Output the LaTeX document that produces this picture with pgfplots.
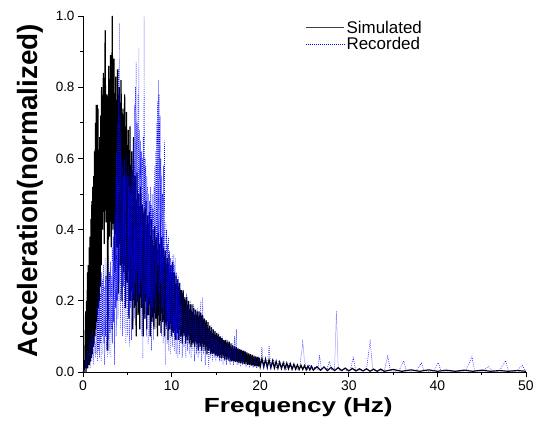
\documentclass[border=0pt]{standalone}
\usepackage{fontspec}
\setmainfont{Liberation Sans}
\usepackage{graphicx}
\usepackage{pgfplots}
\pgfplotsset{compat=1.18}
\begin{document}
\begin{tikzpicture}
\path[use as bounding box] (-83bp,-60bp) rectangle (454bp,372bp);
\begin{axis}[
  scale only axis, width=443bp, height=356bp,
  at={(0,0)}, anchor=south west,
  xmin=0, xmax=50, ymin=0, ymax=1.0,
  axis x line*=bottom, axis y line*=left,
  axis line style={line width=0.9pt},
  tick align=outside,
  major tick length=5bp, minor tick length=3bp,
  every tick/.style={black, line width=0.8pt},
  xtick={0,10,20,30,40,50}, minor xtick={5,15,25,35,45},
  ytick={0,0.2,0.4,0.6,0.8,1.0}, minor ytick={0.1,0.3,0.5,0.7,0.9},
  yticklabel style={/pgf/number format/fixed, /pgf/number format/precision=1, /pgf/number format/fixed zerofill, font=\fontsize{13.5}{15}\selectfont},
  xticklabel style={font=\fontsize{14}{16}\selectfont},
  /pgf/number format/assume math mode=true,
  xlabel={\scalebox{1.28}[1]{\fontsize{20.5}{24}\selectfont\bfseries Frequency (Hz)}},
  ylabel={\fontsize{28}{32}\selectfont\bfseries Acceleration(normalized)},
  xlabel style={at={(axis description cs:0.486,-0.098)}, anchor=center},
  ylabel style={at={(axis description cs:-0.12,0.51)}, anchor=center},
  legend style={at={(0.50,0.995)}, anchor=north west, draw=none, fill=none,
    font=\fontsize{17}{19}\selectfont, row sep=-1bp, inner sep=1bp},
  legend cell align=left,
  legend image code/.code={\draw[#1] (0bp,0bp) -- (38bp,0bp);},
  clip=true,
]
\addlegendimage{black!75, line width=0.9pt}
\addlegendentry{Simulated}
\addlegendimage{blue, line width=0.6pt, dash pattern=on 0.8pt off 1.2pt}
\addlegendentry{Recorded}
\addplot[black, line width=1.2pt, forget plot] coordinates {
(0.0,0.00)(0.1,0.00)(0.2,0.02)(0.30,0.17)(0.35,0.00)(0.40,0.20)(0.45,0.01)(0.50,0.28)(0.55,0.01)(0.60,0.30)
(0.65,0.02)(0.70,0.35)(0.75,0.02)(0.80,0.38)(0.85,0.03)(0.90,0.43)(0.95,0.04)(1.00,0.48)(1.05,0.05)(1.10,0.52)
(1.15,0.07)(1.20,0.55)(1.25,0.08)(1.30,0.62)(1.35,0.10)(1.40,0.70)(1.45,0.12)(1.50,0.75)(1.55,0.14)(1.60,0.75)
(1.65,0.16)(1.70,0.74)(1.75,0.18)(1.80,0.62)(1.85,0.20)(1.90,0.66)(1.95,0.24)(2.00,0.72)(2.05,0.30)
(2.1,0.80)(2.2,0.40)(2.3,0.84)(2.4,0.36)(2.5,0.96)(2.6,0.42)(2.7,0.78)(2.8,0.06)(2.9,0.86)
(3.0,0.38)(3.1,0.89)(3.2,0.35)(3.3,1.00)(3.4,0.40)(3.5,0.88)(3.6,0.28)(3.7,0.83)(3.8,0.35)(3.9,0.85)
(4.0,0.22)(4.1,0.80)(4.2,0.30)(4.3,0.82)(4.4,0.20)(4.5,0.74)(4.6,0.28)(4.7,0.78)(4.8,0.18)(4.9,0.73)
(5.0,0.25)(5.1,0.68)(5.2,0.15)(5.3,0.69)(5.4,0.20)(5.5,0.62)(5.6,0.12)(5.7,0.66)(5.8,0.18)(5.9,0.55)
(6.0,0.10)(6.1,0.56)(6.2,0.16)(6.3,0.50)(6.4,0.12)(6.5,0.52)(6.6,0.18)(6.7,0.47)(6.8,0.10)(6.9,0.46)
(7.0,0.15)(7.1,0.48)(7.2,0.12)(7.3,0.44)(7.4,0.16)(7.5,0.45)(7.6,0.10)(7.7,0.43)(7.8,0.14)(7.9,0.40)
(8.0,0.12)(8.1,0.41)(8.2,0.15)(8.3,0.38)(8.4,0.10)(8.5,0.39)(8.6,0.13)(8.7,0.36)(8.8,0.11)(8.9,0.38)
(9.0,0.14)(9.1,0.35)(9.2,0.10)(9.3,0.34)(9.4,0.13)(9.5,0.32)(9.6,0.09)(9.7,0.33)(9.8,0.12)(9.9,0.30)
(10.0,0.10)(10.1,0.31)(10.2,0.11)(10.3,0.28)(10.4,0.09)(10.5,0.27)(10.6,0.11)(10.7,0.26)(10.8,0.09)(10.9,0.25)
(11.0,0.10)(11.1,0.23)(11.2,0.08)(11.3,0.23)(11.4,0.10)(11.5,0.21)(11.6,0.08)(11.7,0.21)(11.8,0.09)(11.9,0.20)
(12.0,0.08)(12.1,0.19)(12.2,0.07)(12.3,0.19)(12.4,0.08)(12.5,0.18)(12.6,0.07)(12.7,0.175)(12.8,0.08)(12.9,0.17)
(13.0,0.06)(13.1,0.17)(13.2,0.07)(13.3,0.165)(13.4,0.06)(13.5,0.16)(13.6,0.07)(13.7,0.15)(13.8,0.06)(13.9,0.145)
(14.0,0.05)(14.1,0.14)(14.2,0.06)(14.3,0.13)(14.4,0.05)(14.5,0.125)(14.6,0.05)(14.7,0.12)(14.8,0.05)(14.9,0.115)
(15.0,0.045)(15.1,0.11)(15.2,0.045)(15.3,0.105)(15.4,0.04)(15.5,0.10)(15.6,0.04)(15.7,0.095)(15.8,0.04)(15.9,0.09)
(16.0,0.035)(16.1,0.09)(16.2,0.035)(16.3,0.085)(16.4,0.035)(16.5,0.085)(16.6,0.03)(16.7,0.08)(16.8,0.03)(16.9,0.075)
(17.0,0.03)(17.1,0.072)(17.2,0.028)(17.3,0.07)(17.4,0.028)(17.5,0.066)(17.6,0.026)(17.7,0.064)(17.8,0.025)(17.9,0.062)
(18.0,0.024)(18.1,0.06)(18.2,0.022)(18.3,0.058)(18.4,0.022)(18.5,0.055)(18.6,0.02)(18.7,0.052)(18.8,0.02)(18.9,0.05)
(19.0,0.018)(19.1,0.048)(19.2,0.018)(19.3,0.046)(19.4,0.016)(19.5,0.044)(19.6,0.016)(19.7,0.042)(19.8,0.015)(19.9,0.04)
(20.0,0.015)(20.2,0.038)(20.4,0.014)(20.6,0.036)(20.8,0.013)(21.0,0.034)(21.2,0.012)(21.4,0.032)(21.6,0.011)(21.8,0.03)
(22.0,0.01)(22.2,0.028)(22.4,0.01)(22.6,0.026)(22.8,0.009)(23.0,0.025)(23.2,0.009)(23.4,0.023)(23.6,0.008)(23.8,0.022)
(24.0,0.008)(24.2,0.02)(24.4,0.007)(24.6,0.019)(24.8,0.007)(25.0,0.018)(25.2,0.006)(25.4,0.017)(25.6,0.006)(25.8,0.016)
(26.0,0.005)(26.4,0.015)(26.8,0.005)(27.2,0.014)(27.6,0.004)(28.0,0.013)(28.4,0.004)(28.8,0.012)(29.2,0.004)(29.6,0.011)
(30.0,0.003)(30.4,0.01)(30.8,0.003)(31.2,0.009)(31.6,0.003)(32.0,0.009)(32.4,0.002)(32.8,0.008)(33.2,0.002)(33.6,0.008)
(34.0,0.002)(35,0.007)(36,0.002)(37,0.006)(38,0.002)(39,0.006)(40,0.002)(41,0.005)(42,0.002)(43,0.005)
(44,0.002)(45,0.005)(46,0.002)(47,0.004)(48,0.002)(49,0.004)(50,0.002)
};
\addplot[blue, line width=0.5pt, dash pattern=on 0.8pt off 1.2pt, forget plot] coordinates {
(0.0,0.00)(0.1,0.01)(0.2,0.00)(0.3,0.03)(0.4,0.01)(0.5,0.06)(0.6,0.02)(0.7,0.09)(0.8,0.01)(0.9,0.11)
(1.0,0.03)(1.1,0.12)(1.2,0.02)(1.3,0.10)(1.4,0.04)(1.5,0.14)(1.55,0.05)(1.6,0.18)(1.65,0.03)(1.7,0.22)
(1.75,0.06)(1.8,0.20)(1.85,0.04)(1.9,0.25)(1.95,0.08)(2.0,0.22)(2.05,0.03)(2.1,0.28)(2.15,0.10)(2.2,0.26)
(2.25,0.05)(2.3,0.30)(2.35,0.08)(2.4,0.24)(2.45,0.02)(2.5,0.32)(2.55,0.10)(2.6,0.27)(2.65,0.06)(2.7,0.30)
(2.75,0.04)(2.8,0.26)(2.85,0.09)(2.9,0.33)(2.95,0.05)(3.0,0.28)(3.05,0.11)(3.1,0.31)(3.15,0.04)(3.2,0.27)
(3.25,0.12)(3.3,0.35)(3.35,0.08)(3.4,0.38)(3.45,0.14)(3.5,0.42)(3.55,0.02)(3.6,0.45)(3.65,0.18)(3.7,0.55)
(3.75,0.10)(3.8,0.62)(3.85,0.20)(3.9,0.70)(3.95,0.15)(4.0,0.85)(4.05,0.25)(4.1,0.98)(4.15,0.20)(4.2,0.72)
(4.25,0.12)(4.3,0.66)(4.35,0.22)(4.4,0.60)(4.45,0.10)(4.5,0.58)(4.55,0.24)(4.6,0.55)(4.65,0.12)(4.7,0.60)
(4.75,0.18)(4.8,0.56)(4.85,0.08)(4.9,0.62)(4.95,0.20)(5.0,0.55)(5.05,0.10)(5.1,0.58)(5.15,0.16)(5.2,0.52)
(5.25,0.07)(5.3,0.55)(5.35,0.18)(5.4,0.50)(5.45,0.09)(5.5,0.56)(5.55,0.20)(5.6,0.60)(5.65,0.12)(5.7,0.65)
(5.75,0.22)(5.8,0.75)(5.85,0.15)(5.9,0.80)(5.95,0.25)(6.0,0.87)(6.05,0.18)(6.1,0.70)(6.15,0.28)(6.2,0.78)
(6.25,0.20)(6.3,0.91)(6.35,0.22)(6.4,0.68)(6.45,0.12)(6.5,0.65)(6.55,0.25)(6.6,0.62)(6.65,0.10)(6.7,0.60)
(6.75,0.04)(6.8,0.66)(6.85,0.20)(6.9,1.00)(6.95,0.15)(7.0,0.60)(7.05,0.22)(7.1,0.58)(7.15,0.10)(7.2,0.55)
(7.25,0.18)(7.3,0.52)(7.35,0.08)(7.4,0.50)(7.45,0.20)(7.5,0.48)(7.55,0.10)(7.6,0.52)(7.65,0.16)(7.7,0.47)
(7.75,0.06)(7.8,0.50)(7.85,0.18)(7.9,0.46)(7.95,0.09)(8.0,0.52)(8.05,0.20)(8.1,0.58)(8.15,0.12)(8.2,0.62)
(8.25,0.25)(8.3,0.70)(8.35,0.18)(8.4,0.76)(8.45,0.30)(8.5,0.82)(8.55,0.22)(8.6,0.78)(8.65,0.15)(8.7,0.72)
(8.75,0.25)(8.8,0.60)(8.85,0.10)(8.9,0.55)(8.95,0.18)(9.0,0.50)(9.05,0.08)(9.1,0.58)(9.15,0.20)(9.2,0.65)
(9.25,0.10)(9.3,0.02)(9.35,0.42)(9.4,0.12)(9.45,0.40)(9.5,0.08)(9.55,0.36)(9.6,0.14)(9.65,0.38)(9.7,0.06)
(9.75,0.34)(9.8,0.12)(9.85,0.32)(9.9,0.05)(9.95,0.30)(10.0,0.10)(10.05,0.33)(10.1,0.07)(10.15,0.31)(10.2,0.12)
(10.25,0.33)(10.3,0.06)(10.35,0.30)(10.4,0.10)(10.45,0.32)(10.5,0.05)(10.55,0.28)(10.6,0.09)(10.65,0.26)(10.7,0.04)
(10.75,0.27)(10.8,0.10)(10.85,0.24)(10.9,0.05)(10.95,0.25)(11.0,0.08)(11.1,0.22)(11.2,0.04)(11.3,0.23)(11.4,0.07)
(11.5,0.20)(11.6,0.04)(11.7,0.22)(11.8,0.06)(11.9,0.19)(12.0,0.05)(12.1,0.20)(12.2,0.04)(12.3,0.18)(12.4,0.06)
(12.5,0.19)(12.6,0.03)(12.7,0.17)(12.8,0.05)(12.9,0.18)(13.0,0.04)(13.1,0.17)(13.2,0.05)(13.3,0.20)(13.4,0.03)
(13.5,0.21)(13.6,0.05)(13.7,0.15)(13.8,0.02)(13.9,0.14)(14.0,0.04)(14.1,0.13)(14.2,0.01)(14.3,0.12)(14.4,0.04)
(14.5,0.13)(14.6,0.03)(14.7,0.12)(14.8,0.04)(14.9,0.11)(15.0,0.03)(15.1,0.10)(15.2,0.04)(15.3,0.11)(15.4,0.03)
(15.5,0.09)(15.6,0.03)(15.7,0.10)(15.8,0.02)(15.9,0.09)(16.0,0.03)(16.1,0.08)(16.2,0.02)(16.3,0.09)(16.4,0.03)
(16.5,0.08)(16.6,0.02)(16.7,0.075)(16.8,0.03)(16.9,0.08)(17.0,0.02)(17.1,0.10)(17.2,0.03)(17.3,0.12)(17.4,0.02)
(17.5,0.07)(17.6,0.02)(17.7,0.065)(17.8,0.015)(17.9,0.06)(18.0,0.02)(18.2,0.055)(18.4,0.015)(18.6,0.05)(18.8,0.012)
(19.0,0.045)(19.2,0.012)(19.4,0.042)(19.6,0.01)(19.8,0.04)(20.0,0.01)(20.2,0.07)(20.4,0.012)(20.6,0.04)(20.8,0.01)
(21.0,0.074)(21.2,0.01)(21.5,0.035)(21.8,0.01)(22.1,0.03)(22.4,0.008)(22.7,0.028)(23.0,0.008)(23.3,0.025)(23.6,0.006)
(23.9,0.02)(24.2,0.006)(24.5,0.018)(24.8,0.084)(25.0,0.03)(25.3,0.005)(25.6,0.02)(25.9,0.005)(26.2,0.015)(26.5,0.005)
(26.7,0.048)(26.9,0.005)(27.2,0.015)(27.5,0.004)(27.8,0.03)(28.1,0.004)(28.4,0.01)(28.6,0.171)(28.8,0.01)(29.1,0.003)
(29.4,0.008)(29.8,0.003)(30.2,0.008)(30.5,0.04)(30.8,0.003)(31.2,0.006)(31.6,0.002)(32.0,0.008)(32.4,0.087)(32.7,0.01)
(33.0,0.002)(33.5,0.005)(34.0,0.002)(34.4,0.045)(34.7,0.004)(35.2,0.002)(35.7,0.005)(36.2,0.031)(36.5,0.004)(37.0,0.002)
(37.6,0.004)(38.2,0.025)(38.5,0.003)(39.0,0.002)(39.6,0.003)(40.1,0.026)(40.4,0.003)(41.0,0.002)(41.8,0.003)(42.5,0.002)
(43.2,0.003)(43.9,0.043)(44.2,0.004)(45.0,0.002)(45.8,0.015)(46.2,0.002)(47.0,0.003)(47.7,0.032)(48.0,0.004)(48.8,0.002)
(49.6,0.018)(49.9,0.003)(50.0,0.002)
};
\end{axis}
\end{tikzpicture}
\end{document}
